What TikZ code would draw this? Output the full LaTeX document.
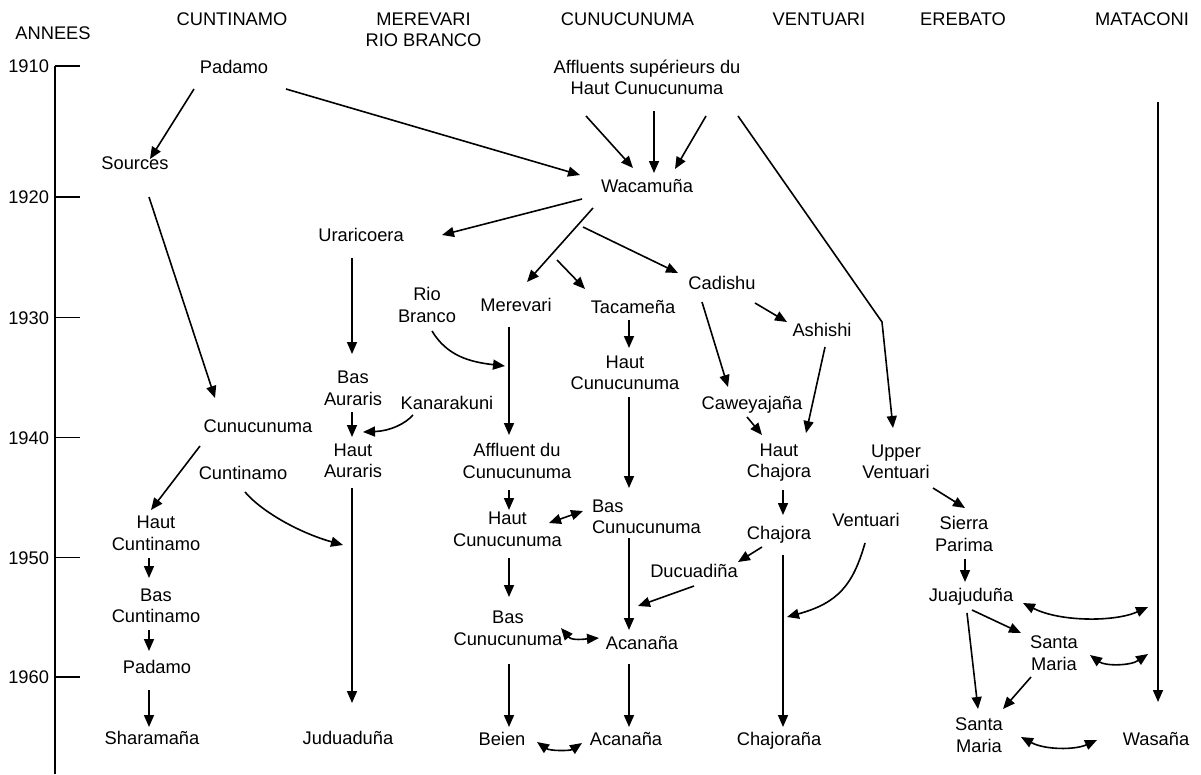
\documentclass[tikz,border=0pt]{standalone}
\usepackage{fontspec}
\setmainfont{Liberation Sans}
\usetikzlibrary{arrows.meta}
\newcommand\st{\rule[-4.25pt]{0pt}{21.7pt}}
\begin{document}
\begin{tikzpicture}[x=1pt,y=-1pt,
  lbl/.style={inner sep=0pt, outer sep=0pt, font=\fontsize{18.3}{21.7}\selectfont, align=center},
  arr/.style={-{Triangle[length=12pt,width=10pt]}, line width=1.6pt},
  darr/.style={{Triangle[length=12pt,width=10pt]}-{Triangle[length=12pt,width=10pt]}, line width=1.6pt},
  axisline/.style={line width=1.7pt}]
\useasboundingbox (0,0) rectangle (1201,774);

% headers
\node[lbl] (hAnnees) at (53,33) {\st ANNEES};
\node[lbl] (hCunt) at (232,19) {\st CUNTINAMO};
\node[lbl] (hMer) at (423.5,29.5) {\st MEREVARI\\\st RIO BRANCO};
\node[lbl] (hCunu) at (627.5,19) {\st CUNUCUNUMA};
\node[lbl] (hVent) at (819,19) {\st VENTUARI};
\node[lbl] (hEreb) at (963,19) {\st EREBATO};
\node[lbl] (hMata) at (1142,19) {\st MATACONI};

% time axis
\draw[axisline] (55,66) -- (55,774);
\foreach \yr/\yy in {1910/66,1920/197,1930/317.5,1940/437.5,1950/557.5,1960/677}{
  \node[lbl, anchor=east] (y\yr) at (49,\yy) {\st \yr};
  \draw[axisline] (55,\yy) -- (80,\yy);
}

% nodes
\node[lbl] (padamo1) at (234,67) {\st Padamo};
\node[lbl] (sources) at (135,163) {\st Sources};
\node[lbl] (affl) at (647,77.5) {\st Affluents supérieurs du\\\st Haut Cunucunuma};
\node[lbl] (wacamuna) at (647,186) {\st Wacamuña};
\node[lbl] (uraricoera) at (361,235) {\st Uraricoera};
\node[lbl] (merevari) at (516,305) {\st Merevari};
\node[lbl] (tacamena) at (633,307) {\st Tacameña};
\node[lbl] (cadishu) at (722,283) {\st Cadishu};
\node[lbl] (riobranco) at (427,305) {\st Rio\\\st Branco};
\node[lbl] (ashishi) at (822,330) {\st Ashishi};
\node[lbl] (hautcunu1) at (625,372.5) {\st Haut\\\st Cunucunuma};
\node[lbl] (basauraris) at (353,388) {\st Bas\\\st Auraris};
\node[lbl] (kanarakuni) at (447,403) {\st Kanarakuni};
\node[lbl] (caweyajana) at (752,403) {\st Caweyajaña};
\node[lbl] (cunucunuma) at (258,426) {\st Cunucunuma};
\node[lbl] (hautauraris) at (353,460.5) {\st Haut\\\st Auraris};
\node[lbl] (affluent) at (517,461) {\st Affluent du\\\st Cunucunuma};
\node[lbl] (hautchajora) at (779,460.5) {\st Haut\\\st Chajora};
\node[lbl] (upperventuari) at (896,461.5) {\st Upper\\\st Ventuari};
\node[lbl] (cuntinamo) at (243,473) {\st Cuntinamo};
\node[lbl, align=left, anchor=west] (bascunu1) at (592,516.5) {\st Bas\\\st Cunucunuma};
\node[lbl] (hautcunu2) at (507.5,529) {\st Haut\\\st Cunucunuma};
\node[lbl] (hautcuntinamo) at (156,533) {\st Haut\\\st Cuntinamo};
\node[lbl] (chajora) at (779,533) {\st Chajora};
\node[lbl] (ventuari) at (866,520) {\st Ventuari};
\node[lbl] (sierraparima) at (964,534) {\st Sierra\\\st Parima};
\node[lbl] (ducuadina) at (694,571) {\st Ducuadiña};
\node[lbl] (juajuduna) at (971,595) {\st Juajuduña};
\node[lbl] (bascuntinamo) at (156,605.5) {\st Bas\\\st Cuntinamo};
\node[lbl] (bascunu2) at (508,628) {\st Bas\\\st Cunucunuma};
\node[lbl] (acanana1) at (642,643) {\st Acanaña};
\node[lbl] (santamaria1) at (1054,653) {\st Santa\\\st Maria};
\node[lbl] (padamo2) at (157,667) {\st Padamo};
\node[lbl] (santamaria2) at (979,735) {\st Santa\\\st Maria};
\node[lbl] (sharamana) at (152,738) {\st Sharamaña};
\node[lbl] (juduaduna) at (348,738) {\st Juduaduña};
\node[lbl] (beien) at (502,739) {\st Beien};
\node[lbl] (acanana2) at (626,739) {\st Acanaña};
\node[lbl] (chajorana) at (779,739) {\st Chajoraña};
\node[lbl] (wasana) at (1156,739) {\st Wasaña};

% helper coordinates
\coordinate (vbend) at (882,322);
\coordinate (matatop) at (1158,102);
\coordinate (mj) at (1148,607);
\coordinate (ms) at (1148,654);

% connectors
\draw[arr] ([shift={(-40,22)}]padamo1.center) -- ([shift={(15,-4)}]sources.center);
\draw[arr] ([shift={(52,22)}]padamo1.center) -- ([shift={(-67,-11)}]wacamuna.center);
\draw[arr] ([shift={(-61,38.5)}]affl.center) -- ([shift={(-14,-18)}]wacamuna.center);
\draw[arr] ([shift={(7,33.5)}]affl.center) -- ([shift={(7,-13)}]wacamuna.center);
\draw[arr] ([shift={(59,38.5)}]affl.center) -- ([shift={(28,-17)}]wacamuna.center);
\draw[arr] ([shift={(91,38.5)}]affl.center) -- (vbend) -- ([shift={(-3,-33.5)}]upperventuari.center);
\draw[arr] ([shift={(14,34)}]sources.center) -- ([shift={(-43,-28)}]cunucunuma.center);
\draw[arr] ([shift={(-65,13)}]wacamuna.center) -- ([shift={(81,0)}]uraricoera.center);
\draw[arr] ([shift={(-54,22)}]wacamuna.center) -- ([shift={(11,-23)}]merevari.center);
\draw[arr] ([shift={(-90,74)}]wacamuna.center) -- ([shift={(-48,-18)}]tacamena.center);
\draw[arr] ([shift={(-64,41)}]wacamuna.center) -- ([shift={(-44,-10)}]cadishu.center);
\draw[arr] ([shift={(-9,23)}]uraricoera.center) -- ([shift={(-1,-34)}]basauraris.center);
\draw[arr] ([shift={(-1,24)}]basauraris.center) -- ([shift={(-1,-23.5)}]hautauraris.center);
\draw[arr] ([shift={(-34,12)}]kanarakuni.center) .. controls (405,424) and (390,431) .. ([shift={(10,-28.5)}]hautauraris.center);
\draw[arr] ([shift={(5,26)}]riobranco.center) .. controls (447,356) and (470,362) .. ([shift={(-11,61)}]merevari.center);
\draw[arr] ([shift={(-7,22)}]merevari.center) -- ([shift={(-8,-26)}]affluent.center);
\draw[arr] ([shift={(-4,13)}]tacamena.center) -- ([shift={(4,-24.5)}]hautcunu1.center);
\draw[arr] ([shift={(4,24.5)}]hautcunu1.center) -- ([shift={(37,-28.5)}]bascunu1.west);
\draw[arr] ([shift={(-20,19)}]cadishu.center) -- ([shift={(-24,-16)}]caweyajana.center);
\draw[arr] ([shift={(33,20)}]cadishu.center) -- ([shift={(-35,-8)}]ashishi.center);
\draw[arr] ([shift={(-5,14)}]caweyajana.center) -- ([shift={(-17,-25.5)}]hautchajora.center);
\draw[arr] ([shift={(3,17)}]ashishi.center) -- ([shift={(27,-27.5)}]hautchajora.center);
\draw[arr] ([shift={(-58,20)}]cunucunuma.center) -- ([shift={(-5,-23)}]hautcuntinamo.center);
\draw[arr] ([shift={(2,19)}]cuntinamo.center) .. controls (262,512) and (300,533) .. ([shift={(-5,-193)}]juduaduna.center);
\draw[arr] ([shift={(-1,27.5)}]hautauraris.center) -- ([shift={(4,-35)}]juduaduna.center);
\draw[arr] ([shift={(-8,29)}]affluent.center) -- ([shift={(1.5,-19)}]hautcunu2.center);
\draw[darr] ([shift={(41.5,-6)}]hautcunu2.center) -- ([shift={(-9,-5.5)}]bascunu1.west);
\draw[arr] ([shift={(4,29.5)}]hautchajora.center) -- ([shift={(4,-18)}]chajora.center);
\draw[arr] ([shift={(37,26.5)}]upperventuari.center) -- ([shift={(1,-26)}]sierraparima.center);
\draw[arr] ([shift={(-7,25)}]hautcuntinamo.center) -- ([shift={(-7,-27.5)}]bascuntinamo.center);
\draw[arr] ([shift={(-7,24.5)}]bascuntinamo.center) -- ([shift={(-8,-16)}]padamo2.center);
\draw[arr] ([shift={(-8,23)}]padamo2.center) -- ([shift={(-3,-11)}]sharamana.center);
\draw[arr] ([shift={(1.5,29)}]hautcunu2.center) -- ([shift={(1,-31)}]bascunu2.center);
\draw[arr] ([shift={(37,21.5)}]bascunu1.west) -- ([shift={(-13,-13)}]acanana1.center);
\draw[arr] ([shift={(-17,14)}]chajora.center) -- ([shift={(44,-9)}]ducuadina.center);
\draw[arr] ([shift={(0,15)}]ducuadina.center) -- ([shift={(-4,-37)}]acanana1.center);
\draw[arr] ([shift={(4,22)}]chajora.center) -- ([shift={(4,-12)}]chajorana.center);
\draw[arr] ([shift={(-1,23)}]ventuari.center) .. controls (853,585) and (838,603) .. ([shift={(8,-122)}]chajorana.center);
\draw[darr] ([shift={(53,0)}]bascunu2.center) .. controls (572,641) and (585,639) .. ([shift={(-43,-5)}]acanana1.center);
\draw[arr] ([shift={(1,36)}]bascunu2.center) -- ([shift={(7,-12)}]beien.center);
\draw[arr] ([shift={(-13,21)}]acanana1.center) -- ([shift={(3,-12)}]acanana2.center);
\draw[darr] ([shift={(35,3)}]beien.center) .. controls (550,751) and (570,751) .. ([shift={(-44,4)}]acanana2.center);
\draw[arr] ([shift={(1,25)}]sierraparima.center) -- ([shift={(-6,-13)}]juajuduna.center);
\draw[darr] ([shift={(52,8)}]juajuduna.center) .. controls (1060,622) and (1115,622) .. (mj);
\draw[arr] ([shift={(1,15)}]juajuduna.center) -- ([shift={(-33,-20)}]santamaria1.center);
\draw[arr] ([shift={(-4,18)}]juajuduna.center) -- ([shift={(-1,-26)}]santamaria2.center);
\draw[arr] ([shift={(-23,24)}]santamaria1.center) -- ([shift={(24,-26)}]santamaria2.center);
\draw[darr] ([shift={(36,2)}]santamaria1.center) .. controls (1105,666) and (1130,666) .. (ms);
\draw[arr] (matatop) -- ([shift={(2,-37)}]wasana.center);
\draw[darr] ([shift={(42,2)}]santamaria2.center) .. controls (1045,750) and (1075,750) .. ([shift={(-59,1)}]wasana.center);
\end{tikzpicture}
\end{document}
